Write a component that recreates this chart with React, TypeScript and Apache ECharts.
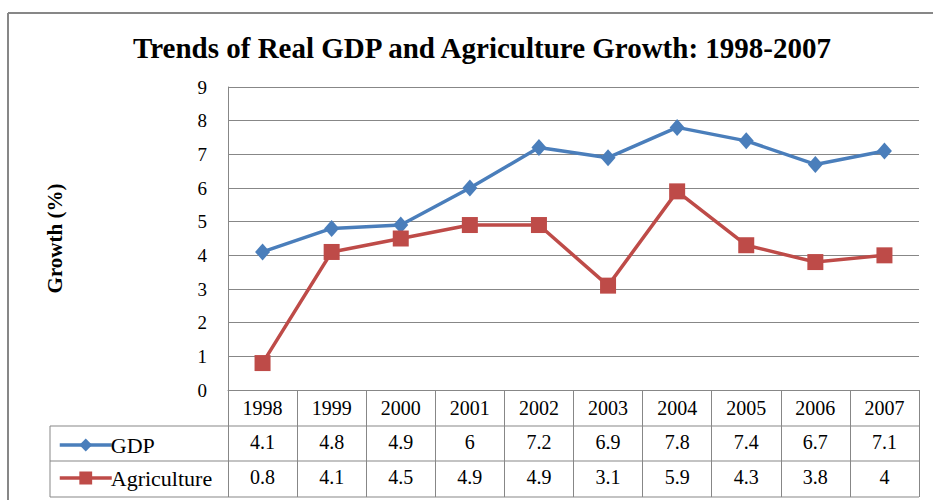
import React, { useEffect, useRef } from "react";
import * as echarts from "echarts";

const years = ["1998", "1999", "2000", "2001", "2002", "2003", "2004", "2005", "2006", "2007"];
const gdp = [4.1, 4.8, 4.9, 6, 7.2, 6.9, 7.8, 7.4, 6.7, 7.1];
const agriculture = [0.8, 4.1, 4.5, 4.9, 4.9, 3.1, 5.9, 4.3, 3.8, 4];
const yTicks = { min: 0, max: 9, interval: 1 };
const titleText = "Trends of Real GDP and Agriculture Growth: 1998-2007";
const yName = "Growth (%)";

const BLUE = "#4A7EBB";
const RED = "#BE4B48";
const GRID = "#878787";
const SERIF = "'Liberation Serif', 'Times New Roman', serif";

export default function App() {
  const ref = useRef<HTMLDivElement>(null);
  useEffect(() => {
    document.body.style.margin = "0";
    const chart = echarts.init(ref.current!, null, { renderer: "svg" });
    const W = 933;
    const gridLeft = 228;
    const gridRight = 919;
    const gridTop = 87;
    const gridBottom = 390;
    const rowLines = [426, 461, 497];
    const legendLeft = 50;
    const lbl = (margin: number) => ({
      fontFamily: SERIF,
      fontSize: 20,
      color: "#000",
      margin,
      verticalAlign: "middle" as const,
      interval: 0,
    });
    chart.setOption({
      animation: false,
      backgroundColor: "#fff",
      title: {
        text: titleText,
        left: 477,
        textAlign: "center",
        top: 28,
        textStyle: { fontFamily: SERIF, fontWeight: "bold", fontSize: 29, color: "#000" },
      },
      legend: {
        orient: "vertical",
        left: 53,
        top: 429,
        itemWidth: 52,
        itemHeight: 16,
        itemGap: 11,
        lineStyle: { width: 3.5 },
        textStyle: { fontFamily: SERIF, fontSize: 22, color: "#000", padding: [0, 0, 0, -6] },
        data: ["GDP", "Agriculture"],
      },
      grid: { left: gridLeft, right: W - gridRight, top: gridTop, bottom: 500 - gridBottom },
      xAxis: [
        {
          type: "category",
          data: years,
          boundaryGap: true,
          axisLine: { show: true, lineStyle: { color: GRID, width: 1 } },
          axisTick: { show: true, interval: 0, length: rowLines[2] - gridBottom, lineStyle: { color: GRID } },
          axisLabel: lbl(18),
        },
        {
          type: "category",
          data: gdp.map(String),
          position: "bottom",
          boundaryGap: true,
          axisLine: { show: false },
          axisTick: { show: false },
          axisLabel: lbl(52),
        },
        {
          type: "category",
          data: agriculture.map(String),
          position: "bottom",
          boundaryGap: true,
          axisLine: { show: false },
          axisTick: { show: false },
          axisLabel: lbl(87),
        },
      ],
      yAxis: {
        type: "value",
        min: yTicks.min,
        max: yTicks.max,
        interval: yTicks.interval,
        name: yName,
        nameLocation: "middle",
        nameRotate: 90,
        nameGap: 163,
        nameTextStyle: { fontFamily: SERIF, fontWeight: "bold", fontSize: 21, color: "#000" },
        axisLine: { show: true, lineStyle: { color: GRID, width: 1 } },
        axisTick: { show: false },
        axisLabel: { fontFamily: SERIF, fontSize: 19, color: "#000", margin: 21 },
        splitLine: { show: true, lineStyle: { color: GRID, width: 1 } },
      },
      series: [
        {
          name: "GDP",
          type: "line",
          data: gdp,
          symbol: "diamond",
          symbolSize: [15, 17],
          lineStyle: { color: BLUE, width: 3.5 },
          itemStyle: { color: BLUE },
        },
        {
          name: "Agriculture",
          type: "line",
          data: agriculture,
          symbol: "rect",
          symbolSize: 16,
          lineStyle: { color: RED, width: 3.5 },
          itemStyle: { color: RED },
        },
      ],
      graphic: [
        { type: "line", shape: { x1: 8, y1: 13, x2: W, y2: 13 }, style: { stroke: GRID, lineWidth: 2 } },
        { type: "line", shape: { x1: 8, y1: 13, x2: 8, y2: 500 }, style: { stroke: GRID, lineWidth: 2 } },
        ...rowLines.map((y) => ({
          type: "line",
          shape: { x1: legendLeft, y1: y, x2: gridRight, y2: y },
          style: { stroke: GRID, lineWidth: 1 },
        })),
        {
          type: "line",
          shape: { x1: legendLeft, y1: rowLines[0], x2: legendLeft, y2: rowLines[2] },
          style: { stroke: GRID, lineWidth: 1 },
        },
      ],
    });
    return () => chart.dispose();
  }, []);
  return <div ref={ref} style={{ width: 933, height: 500 }} />;
}
